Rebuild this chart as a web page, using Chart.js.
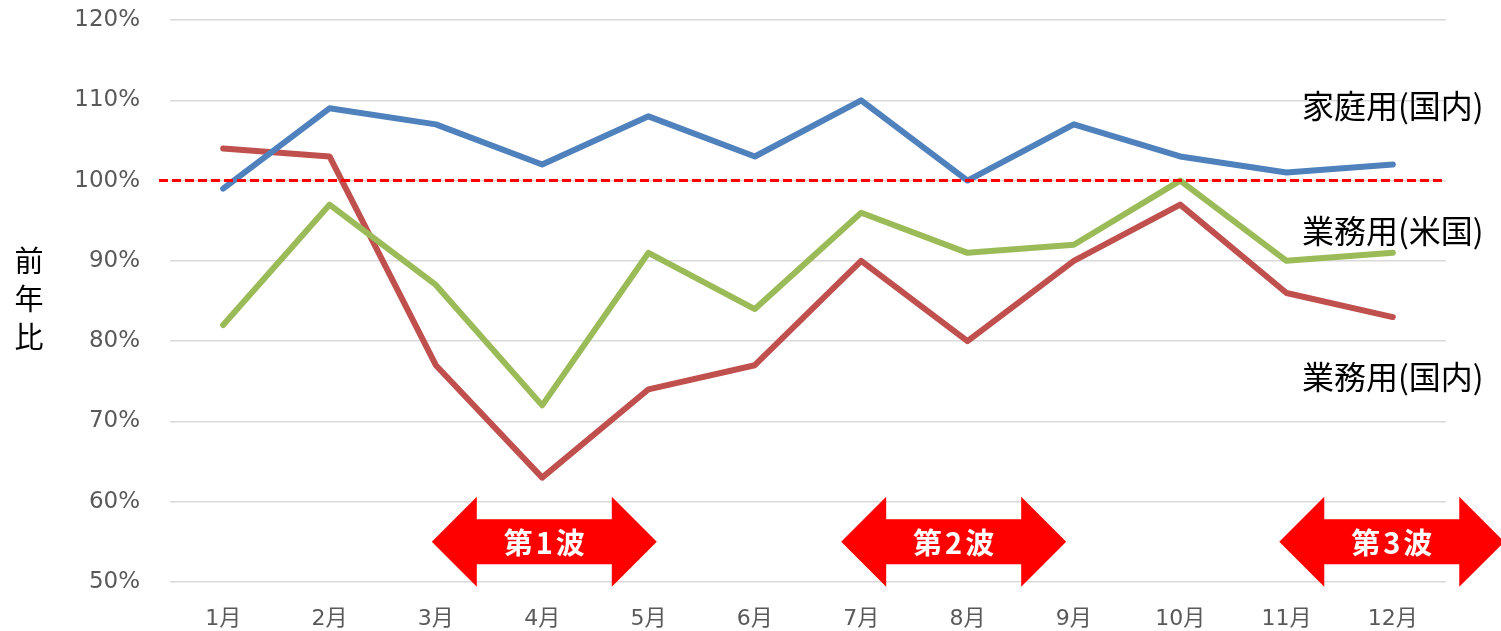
<!DOCTYPE html>
<html>
<head>
<meta charset="utf-8">
<script src="https://cdn.jsdelivr.net/npm/chart.js@4/dist/chart.umd.min.js"></script>
<style>
  html, body { margin: 0; padding: 0; background: #ffffff; }
  #wrap { width: 1501px; height: 631px; position: relative; }
</style>
</head>
<body>
<div id="wrap"><canvas id="c" width="1501" height="631"></canvas></div>
<script>
const categories = ['1月','2月','3月','4月','5月','6月','7月','8月','9月','10月','11月','12月'];
const homeDomestic = [99, 109, 107, 102, 108, 103, 110, 100, 107, 103, 101, 102];
const bizDomestic  = [104, 103, 77, 63, 74, 77, 90, 80, 90, 97, 86, 83];
const bizUS        = [82, 97, 87, 72, 91, 84, 96, 91, 92, 100, 90, 91];
const seriesNames = ['家庭用(国内)', '業務用(国内)', '業務用(米国)'];
const yTicks = [50, 60, 70, 80, 90, 100, 110, 120];
const referenceValue = 100;
const yTitle = ['前', '年', '比'];
// series label anchors: [category index, value]
const labelAnchors = [[11, 109.3], [11, 75.5], [11, 93.8]];
// wave arrows: [label, center category index, center value]
const waves = [['第1波', 3.02, 55], ['第2波', 6.87, 55], ['第3波', 10.99, 55]];

const FONT = '"DejaVu Sans", "Noto Sans CJK JP", sans-serif';
const CJK = '"Noto Sans CJK JP", sans-serif';

const overlay = {
  id: 'overlay',
  afterDatasetsDraw(chart) {
    const ctx = chart.ctx;
    const xs = chart.scales.x, ys = chart.scales.y;
    const area = chart.chartArea;
    // reference dashed line
    const yr = ys.getPixelForValue(referenceValue);
    ctx.save();
    ctx.strokeStyle = '#ff0000';
    ctx.lineWidth = 3;
    ctx.setLineDash([9, 4]);
    ctx.beginPath();
    ctx.moveTo(area.left - 11, yr);
    ctx.lineTo(area.right, yr);
    ctx.stroke();
    ctx.restore();

    // series labels
    ctx.save();
    ctx.fillStyle = '#000000';
    ctx.font = '32px ' + CJK;
    ctx.textAlign = 'center';
    ctx.textBaseline = 'middle';
    labelAnchors.forEach((a, i) => {
      ctx.fillText(seriesNames[i], xs.getPixelForValue(a[0]), ys.getPixelForValue(a[1]));
    });
    ctx.restore();

    // wave arrows
    waves.forEach(w => {
      const cx = xs.getPixelForValue(w[1]);
      const cy = ys.getPixelForValue(w[2]);
      const halfW = 112.5, headL = 45, headH = 45, bodyH = 22.5;
      ctx.save();
      ctx.fillStyle = '#ff0000';
      ctx.beginPath();
      ctx.moveTo(cx - halfW, cy);
      ctx.lineTo(cx - halfW + headL, cy - headH);
      ctx.lineTo(cx - halfW + headL, cy - bodyH);
      ctx.lineTo(cx + halfW - headL, cy - bodyH);
      ctx.lineTo(cx + halfW - headL, cy - headH);
      ctx.lineTo(cx + halfW, cy);
      ctx.lineTo(cx + halfW - headL, cy + headH);
      ctx.lineTo(cx + halfW - headL, cy + bodyH);
      ctx.lineTo(cx - halfW + headL, cy + bodyH);
      ctx.lineTo(cx - halfW + headL, cy + headH);
      ctx.closePath();
      ctx.fill();
      ctx.fillStyle = '#ffffff';
      ctx.font = 'bold 29px ' + CJK;
      try { ctx.letterSpacing = '3px'; } catch (e) {}
      ctx.textAlign = 'center';
      ctx.textBaseline = 'middle';
      ctx.fillText(w[0], cx + 1.5, cy + 1);
      ctx.restore();
    });

    // y title stacked vertically
    ctx.save();
    ctx.fillStyle = '#000000';
    ctx.font = '29px ' + CJK;
    ctx.textAlign = 'center';
    ctx.textBaseline = 'middle';
    const midY = ys.getPixelForValue(90) + 38;
    yTitle.forEach((ch, i) => {
      ctx.fillText(ch, 29, midY + (i - 1) * 38);
    });
    ctx.restore();
  }
};

new Chart(document.getElementById('c'), {
  type: 'line',
  data: {
    labels: categories,
    datasets: [
      { label: seriesNames[0], data: homeDomestic, borderColor: '#4F81BD', order: 0 },
      { label: seriesNames[1], data: bizDomestic, borderColor: '#C0504D', order: 2 },
      { label: seriesNames[2], data: bizUS, borderColor: '#9BBB59', order: 1 }
    ]
  },
  options: {
    responsive: false,
    animation: false,
    layout: { padding: { top: 0, right: 55, left: 0, bottom: 0 } },
    elements: {
      line: { borderWidth: 6, tension: 0, borderCapStyle: 'round', borderJoinStyle: 'round', fill: false },
      point: { radius: 0, hoverRadius: 0 }
    },
    plugins: { legend: { display: false }, tooltip: { enabled: false } },
    scales: {
      x: {
        offset: true,
        grid: { display: false, drawTicks: false },
        border: { display: false },
        ticks: { color: '#595959', font: { family: FONT, size: 22 }, padding: 24, maxRotation: 0, autoSkip: false },
        afterFit(s) { s.height = 49; }
      },
      y: {
        min: 50, max: 120,
        afterBuildTicks(s) { s.ticks = yTicks.map(v => ({ value: v })); },
        grid: { color: '#d9d9d9', lineWidth: 1.5, drawTicks: false },
        border: { display: false },
        ticks: { color: '#595959', font: { family: FONT, size: 23 }, padding: 30, callback: v => v + '%' },
        afterFit(s) { s.width = 170; s.paddingTop = 20; s.paddingBottom = 0; }
      }
    }
  },
  plugins: [overlay]
});
</script>
</body>
</html>
